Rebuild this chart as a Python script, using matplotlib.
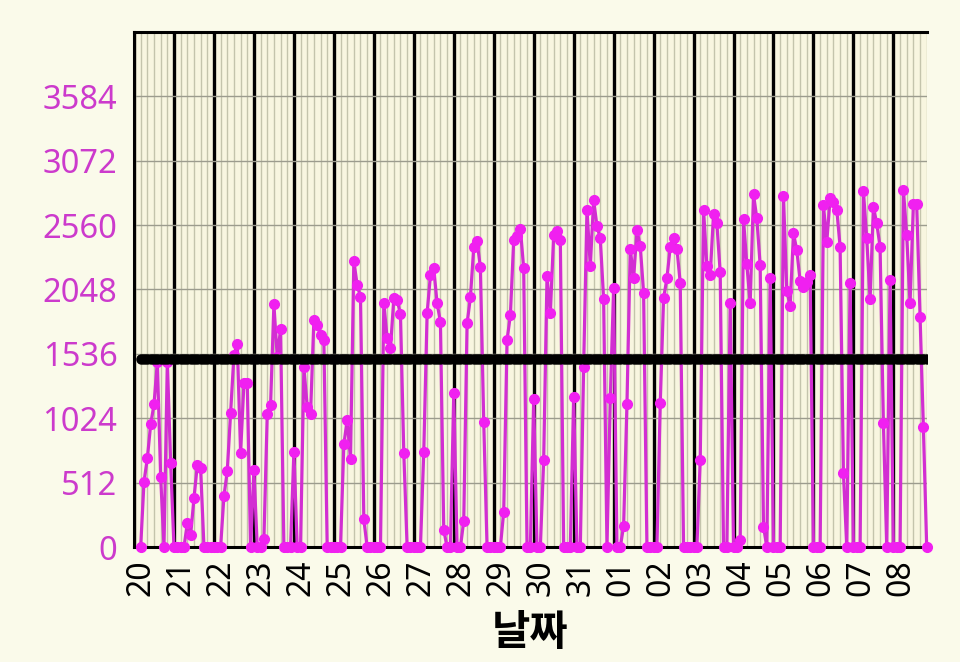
import numpy as np
import pandas as pd
import matplotlib
matplotlib.use('Agg')
import matplotlib.pyplot as plt
import matplotlib.dates as mdates
from matplotlib.transforms import ScaledTranslation

# 2시간 간격 측정값 (20일 04시 ~ 08일 20시)
start_time = '2023-07-20 04:00'
step = '2h'
values = [
    # 20
    0, 520, 705, 975, 1134, 1473, 559, 0, 1473, 670,
    # 21
    0, 0, 0, 0, 188, 95, 387, 652, 625, 0, 0, 0,
    # 22
    0, 0, 0, 405, 604, 1068, 1526, 1614, 750, 1301, 1301, 0,
    # 23
    612, 0, 0, 61, 1055, 1129, 1929, 1513, 1730, 0, 0, 0,
    # 24
    758, 0, 0, 1428, 1116, 1055, 1805, 1765, 1685, 1646, 0, 0,
    # 25
    0, 0, 0, 816, 1010, 700, 2276, 2083, 1990, 220, 0, 0,
    # 26
    0, 0, 0, 1942, 1659, 1579, 1977, 1964, 1852, 750, 0, 0,
    # 27
    0, 0, 0, 758, 1858, 2162, 2215, 1937, 1791, 135, 0, 0,
    # 28
    1222, 0, 0, 207, 1778, 1985, 2382, 2433, 2223, 996, 0, 0,
    # 29
    0, 0, 0, 281, 1646, 1844, 2441, 2472, 2533, 2215, 0, 0,
    # 30
    1174, 0, 0, 692, 2154, 1858, 2480, 2512, 2441, 0, 0, 0,
    # 31
    1195, 0, 0, 1434, 2684, 2233, 2759, 2552, 2454, 1969, 0, 1182,
    # 01
    2056, 0, 0, 167, 1134, 2374, 2136, 2520, 2393, 2022, 0, 0,
    # 02
    0, 0, 1142, 1977, 2136, 2388, 2454, 2374, 2101, 0, 0, 0,
    # 03
    0, 0, 692, 2684, 2233, 2162, 2647, 2573, 2184, 0, 0, 1937,
    # 04
    0, 0, 56, 2605, 2247, 1937, 2804, 2613, 2242, 162, 0, 2136,
    # 05
    0, 0, 0, 2790, 2035, 1919, 2494, 2361, 2115, 2070, 2109, 2162,
    # 06
    0, 0, 0, 2719, 2427, 2772, 2745, 2684, 2388, 586, 0, 2101,
    # 07
    0, 0, 0, 2830, 2454, 1969, 2706, 2573, 2388, 983, 0, 2123,
    # 08
    0, 0, 0, 2843, 2480, 1937, 2724, 2724, 1831, 957, 0,
]
avg_level = 1495
yticks = [0, 512, 1024, 1536, 2048, 2560, 3072, 3584]
x_range = ('2023-07-20 00:00', '2023-08-08 20:10')
y_max = 4096

plt.rcParams['font.family'] = ['Noto Sans', 'Noto Sans CJK KR', 'DejaVu Sans']

times = pd.date_range(start_time, periods=len(values), freq=step)

fig = plt.figure(figsize=(9.6, 6.62), dpi=100, facecolor='#fafaea')
ax = fig.add_axes([0.1396, 0.1737, 0.8260, 0.7780])
ax.set_facecolor('#f8f6e0')

ax.plot(times, values, color='#d22ed2', lw=2.3, marker='o', ms=7,
        mfc='#f020f0', mec='#f020f0', zorder=3, clip_on=False)
ax.plot(times, np.full(len(times), avg_level), color='black', lw=6,
        marker='o', ms=6.5, zorder=4, solid_capstyle='round')

ax.set_xlim(pd.Timestamp(x_range[0]), pd.Timestamp(x_range[1]))
ax.set_ylim(0, y_max)
ax.set_yticks(yticks)

ax.xaxis.set_major_locator(mdates.DayLocator())
ax.xaxis.set_major_formatter(mdates.DateFormatter('%d'))
ax.xaxis.set_minor_locator(mdates.HourLocator(byhour=[4, 8, 12, 16, 20]))

ax.grid(which='major', axis='x', color='black', lw=2.4, zorder=1)
ax.grid(which='minor', axis='x', color='#c4c4ac', lw=1.0, zorder=0)
ax.grid(which='major', axis='y', color='#9c9c8e', lw=1.0, zorder=1)

ax.tick_params(axis='both', which='both', length=0)
ax.tick_params(axis='x', labelsize=23, labelcolor='black', pad=9,
               labelrotation=90)
ax.tick_params(axis='y', labelsize=23.5, labelcolor='#cc3acc', pad=12)

shift = ScaledTranslation(0.07, 0, fig.dpi_scale_trans)
for lab in ax.get_xticklabels():
    lab.set_transform(lab.get_transform() + shift)

for side in ['left', 'bottom', 'top']:
    ax.spines[side].set_color('black')
    ax.spines[side].set_linewidth(2.2)
ax.spines['right'].set_visible(False)

ax.set_xlabel('날짜', fontsize=30, fontweight='bold',
              family=['Noto Sans CJK KR', 'DejaVu Sans'], labelpad=11)

fig.savefig('out.png', dpi=100, facecolor=fig.get_facecolor())
